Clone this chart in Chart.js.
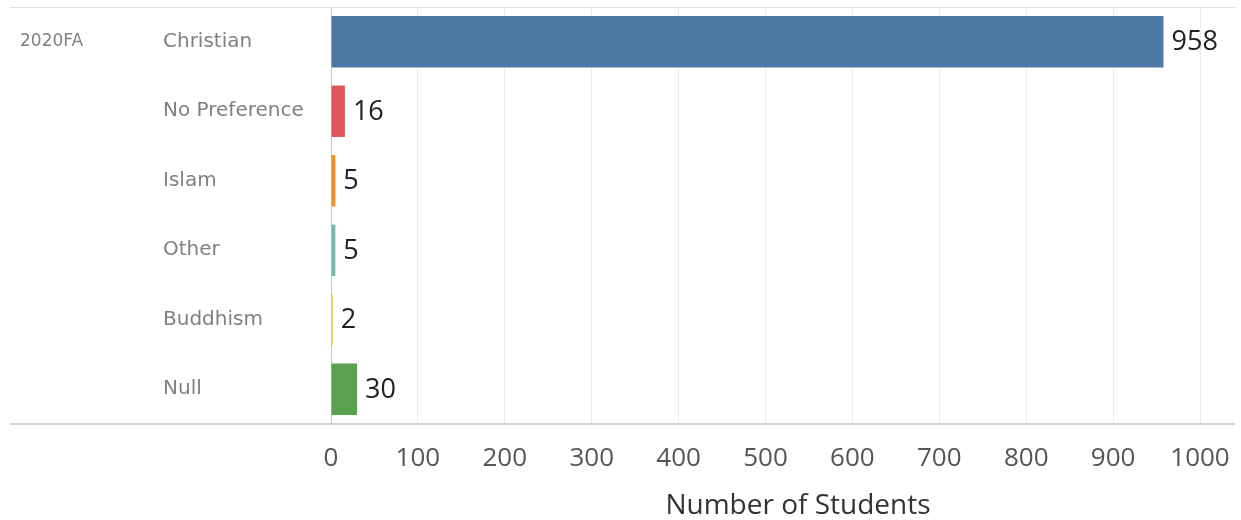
<!DOCTYPE html>
<html>
<head>
<meta charset="utf-8">
<script src="https://cdn.jsdelivr.net/npm/chart.js@4.4.1/dist/chart.umd.min.js"></script>
<style>
  html,body{margin:0;padding:0;background:#fff;}
  #wrap{width:1241px;height:520px;position:relative;}
</style>
</head>
<body>
<div id="wrap"><canvas id="chart"></canvas></div>
<script>
// ===== 数据 =====
const term = "2020FA";
const religions = ["Christian","No Preference","Islam","Other","Buddhism","Null"];
const students = [958, 16, 5, 5, 2, 30];
const barColors = ["#4e79a7","#e15759","#f28e2b","#76b7b2","#edc948","#59a14f"];
const xTicks = [0,100,200,300,400,500,600,700,800,900,1000];
const axisTitle = "Number of Students";

const FONT = "'Open Sans', sans-serif";
const LABEL_FONT = "'DejaVu Sans', sans-serif";

// 行框线 + 左侧学期标签 + 轴标题
const framePlugin = {
  id: "frame",
  beforeDraw(chart){
    const {ctx, chartArea:a} = chart;
    ctx.save();
    ctx.strokeStyle = "#e0e0e0"; ctx.lineWidth = 1;
    ctx.beginPath(); ctx.moveTo(10, a.top+0.5); ctx.lineTo(1235, a.top+0.5); ctx.stroke();
    ctx.restore();
  },
  afterDraw(chart){
    const {ctx, chartArea:a, scales} = chart;
    ctx.save();
    // bottom axis line
    ctx.strokeStyle = "#c4c4c4"; ctx.lineWidth = 1.5;
    ctx.beginPath(); ctx.moveTo(10, a.bottom); ctx.lineTo(1235, a.bottom); ctx.stroke();
    // term label
    ctx.fillStyle = "#808080";
    ctx.font = "17px " + LABEL_FONT;
    ctx.textBaseline = "middle"; ctx.textAlign = "left";
    ctx.fillText(term, 20, scales.y.getPixelForValue(0));
    // axis title
    ctx.fillStyle = "#333";
    ctx.font = "28px " + FONT;
    ctx.textAlign = "center";
    ctx.fillText(axisTitle, 798, 506);
    ctx.restore();
  }
};

// 数值标签
const valuePlugin = {
  id: "values",
  afterDatasetsDraw(chart){
    const {ctx} = chart;
    const meta = chart.getDatasetMeta(0);
    ctx.save();
    ctx.fillStyle = "#222";
    ctx.font = "27px " + FONT;
    ctx.textBaseline = "middle"; ctx.textAlign = "left";
    meta.data.forEach((bar,i)=>{
      ctx.fillText(String(students[i]), bar.x + 8, bar.y + 1);
    });
    ctx.restore();
  }
};

new Chart(document.getElementById("chart"), {
  type: "bar",
  data: {
    labels: religions,
    datasets: [{
      data: students,
      backgroundColor: barColors,
      borderWidth: 0,
      barPercentage: 0.74,
      categoryPercentage: 1
    }]
  },
  options: {
    indexAxis: "y",
    responsive: true,
    maintainAspectRatio: false,
    animation: false,
    layout: { padding: { left: 163, top: 7, right: 41, bottom: 0 } },
    plugins: { legend: { display: false }, tooltip: { enabled: false } },
    scales: {
      x: {
        min: 0, max: 1000,
        afterBuildTicks(s){ s.ticks = xTicks.map(v=>({value:v})); },
        afterFit(s){ s.height = 96; s.paddingLeft = 0; s.paddingRight = 0; },
        grid: { color: "#ececec", drawTicks: false },
        border: { display: false },
        ticks: { color: "#555", font: { family: FONT, size: 26 }, padding: 19, maxRotation: 0,
                 callback: v => String(v) }
      },
      y: {
        afterFit(s){ s.width = 168; s.paddingTop = 0; s.paddingBottom = 0; },
        grid: { display: false, drawTicks: false },
        border: { display: true, color: "#c8c8c8", width: 1 },
        ticks: { crossAlign: "far", color: "#808080", font: { family: LABEL_FONT, size: 20 }, padding: 0 }
      }
    }
  },
  plugins: [framePlugin, valuePlugin]
});
</script>
</body>
</html>
